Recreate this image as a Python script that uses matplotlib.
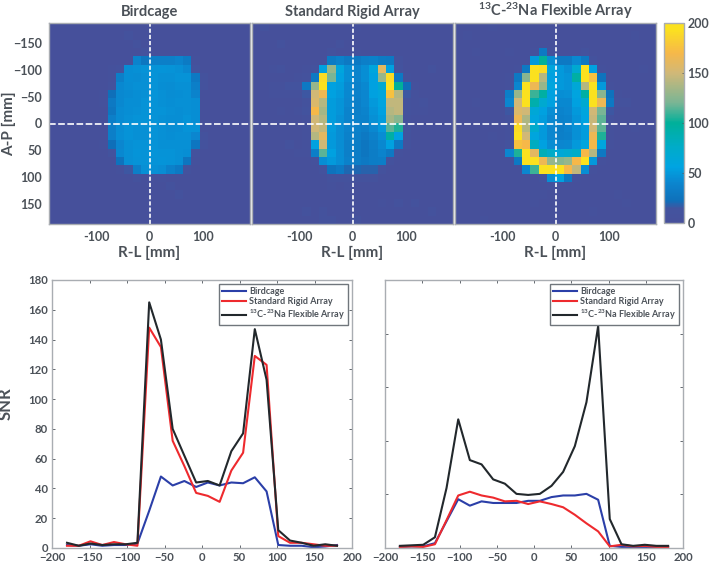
import numpy as np
import matplotlib
matplotlib.use('Agg')
import matplotlib.pyplot as plt
from matplotlib.colors import LinearSegmentedColormap
plt.rc('font', family='Lato', weight='bold', size=10)
matplotlib.rcParams['mathtext.fontset'] = 'custom'
matplotlib.rcParams['mathtext.rm'] = 'Lato:bold'
matplotlib.rcParams['mathtext.default'] = 'rm'
matplotlib.rcParams['axes.labelweight'] = 'bold'
matplotlib.rcParams['axes.titleweight'] = 'bold'

W, H = 709., 564.
gray = '#4b5158'
frame = '#a9adb2'

titles = ['Birdcage', 'Standard Rigid Array', r'$^{13}$C-$^{23}$Na Flexible Array']

birdcage_map = [
 [3,3,3,3,3,3,3,3,3,3,3,3,3,3,3,3,3,3,3,3,3,3,3,3],
 [3,3,3,3,3,3,3,3,3,8,3,3,3,3,3,3,3,3,3,3,3,3,3,3],
 [3,3,3,3,3,3,3,3,3,3,8,3,3,3,3,3,3,3,3,3,3,3,3,3],
 [3,3,3,3,3,3,3,3,3,3,3,8,3,3,3,3,3,3,3,3,3,3,3,3],
 [3,3,3,3,3,3,3,3,3,3,38,28,35,35,35,38,32,4,3,3,3,3,3,3],
 [3,3,3,3,3,3,3,6,10,45,46,47,47,48,47,46,42,12,3,3,3,3,3,3],
 [3,3,3,3,3,3,3,6,35,45,44,46,47,46,46,47,47,30,8,3,3,3,3,3],
 [3,3,3,3,3,3,3,10,42,44,46,46,47,45,44,46,46,35,8,3,3,3,3,3],
 [3,3,3,3,3,3,6,22,42,43,45,46,48,46,44,45,46,38,3,3,3,3,3,3],
 [3,3,3,3,3,3,5,30,42,45,45,47,47,46,45,46,46,45,3,3,3,3,3,3],
 [3,3,3,3,3,3,3,28,43,45,46,47,47,47,46,45,46,45,3,3,3,3,3,3],
 [3,3,3,3,3,3,3,35,43,46,47,47,47,46,45,45,47,45,3,3,3,3,3,3],
 [3,3,3,3,3,3,3,35,44,47,46,46,47,46,44,45,47,47,3,3,3,3,3,3],
 [3,3,3,3,3,3,3,35,45,47,46,46,47,46,45,46,46,40,8,3,3,3,3,3],
 [3,3,3,3,3,3,6,22,40,46,47,47,47,46,46,46,46,28,8,3,3,3,3,3],
 [3,3,3,3,3,3,3,12,42,46,48,47,48,47,47,46,45,10,3,3,3,3,3,3],
 [3,3,3,3,3,3,3,3,25,46,47,47,47,48,47,46,28,4,3,3,3,3,3,3],
 [3,3,3,3,3,3,3,3,6,15,35,46,46,44,36,30,8,3,3,3,3,3,3,3],
 [3,3,3,3,3,3,3,3,3,3,8,3,3,7,3,3,3,3,3,3,3,3,3,3],
 [3,3,3,3,3,3,3,3,3,3,3,3,3,3,8,3,3,3,3,3,3,3,3,3],
 [3,3,3,3,3,3,3,3,3,3,3,3,3,3,3,10,3,3,3,3,3,3,3,3],
 [3,3,3,3,3,3,3,3,3,3,3,3,3,3,3,3,3,3,3,3,3,3,3,3],
 [3,3,3,3,3,3,3,3,3,3,3,3,3,3,3,3,3,3,3,3,3,3,3,3],
 [3,3,3,3,3,3,3,3,3,3,3,3,3,3,3,3,3,3,3,3,3,3,3,3],
]

rigid_map = [
 [3,10,3,3,3,3,3,3,3,3,3,3,5,3,3,3,3,3,3,3,3,3,3,3],
 [3,3,3,3,3,3,3,3,3,3,3,3,3,3,3,3,3,3,3,3,3,3,3,3],
 [3,3,3,10,3,3,3,3,3,3,8,3,3,3,3,3,3,3,3,3,3,3,3,3],
 [3,3,3,3,3,3,3,3,3,10,3,3,5,3,3,3,3,3,3,3,3,3,3,3],
 [3,3,3,3,3,3,3,3,3,32,36,30,30,35,36,32,30,8,3,3,3,3,3,3],
 [3,3,6,8,3,3,4,10,55,130,60,45,38,45,60,160,55,12,3,3,3,8,3,3],
 [3,3,3,3,3,5,8,30,190,120,55,45,38,45,55,130,190,30,5,3,3,3,3,3],
 [3,3,6,7,12,14,30,130,197,55,52,42,36,42,55,70,198,100,22,5,3,3,3,3],
 [3,3,5,6,6,6,15,150,165,55,50,42,36,40,55,60,175,140,15,6,3,3,3,3],
 [3,3,3,3,3,3,10,155,140,52,48,40,35,40,50,58,145,145,8,6,8,3,3,3],
 [3,3,3,5,3,6,12,170,135,52,48,38,35,38,48,55,140,145,8,5,4,3,3,3],
 [3,3,3,3,3,3,6,150,140,52,46,38,36,36,46,52,135,125,5,3,3,3,3,3],
 [3,3,3,3,3,3,6,150,145,52,44,38,36,34,42,50,115,105,12,3,3,3,3,3],
 [3,3,3,3,3,3,5,140,160,50,44,36,35,30,36,44,95,55,10,3,3,3,3,3],
 [3,3,3,3,8,3,6,55,150,50,44,35,33,28,34,42,55,30,8,3,3,3,3,3],
 [3,3,3,3,3,6,5,35,115,55,45,35,33,28,33,38,30,4,3,3,3,3,3,3],
 [3,3,3,3,3,3,3,6,45,50,45,36,33,30,33,34,8,3,3,3,3,3,3,3],
 [3,3,3,3,3,3,3,3,8,25,30,20,20,18,18,8,3,3,3,3,3,3,3,3],
 [3,3,3,3,3,3,3,3,3,8,10,8,8,10,8,3,3,3,3,3,3,3,3,3],
 [3,3,3,3,3,3,3,3,3,4,3,5,3,3,3,3,3,3,3,3,3,3,3,3],
 [3,3,3,3,3,3,3,3,3,3,3,3,3,3,3,3,3,3,3,3,3,3,3,3],
 [3,3,3,3,3,3,3,3,3,3,3,3,3,3,3,7,3,8,3,8,3,3,3,3],
 [3,3,3,3,3,3,8,3,8,3,3,3,3,3,3,3,3,3,3,3,3,8,3,3],
 [3,3,3,3,3,3,3,3,8,8,3,3,8,3,3,3,3,3,3,3,3,3,3,3],
]

flexible_map = [
 [3,3,3,3,5,3,3,3,3,3,3,3,3,3,3,3,3,3,3,3,3,3,3,3],
 [3,6,3,3,3,3,3,3,3,3,3,3,3,3,3,3,3,3,3,3,3,6,3,3],
 [3,3,3,3,3,3,3,3,3,3,3,3,3,3,3,3,3,3,3,3,3,3,3,3],
 [3,3,6,3,3,3,5,3,3,6,30,5,3,3,3,8,3,3,3,3,3,3,3,3],
 [3,3,3,3,3,3,3,3,3,50,100,45,30,30,42,30,8,3,3,3,3,3,3,3],
 [3,3,3,3,3,3,3,5,30,195,190,60,50,45,70,195,55,6,3,3,3,3,6,3],
 [3,3,3,3,3,3,6,30,125,195,140,55,50,48,95,195,175,25,3,3,3,3,3,3],
 [3,3,3,3,3,3,6,40,195,165,130,60,50,48,65,140,195,50,6,3,3,3,3,3],
 [3,3,3,3,3,3,35,130,195,110,95,55,45,46,58,95,195,125,25,6,3,3,3,3],
 [3,3,6,3,3,3,40,150,195,90,70,55,42,42,55,70,195,165,30,8,8,3,3,3],
 [3,3,3,3,3,3,15,155,150,65,55,45,38,40,50,60,150,120,15,3,3,3,3,3],
 [3,3,3,3,3,3,8,165,138,60,52,42,36,38,48,56,147,115,8,3,3,3,3,3],
 [3,3,3,3,3,3,6,190,140,72,50,40,34,38,46,52,150,115,6,3,3,5,3,3],
 [3,3,3,3,6,3,5,195,150,60,50,40,35,36,46,52,165,105,6,3,3,3,3,3],
 [3,3,3,3,3,3,10,175,170,80,55,44,40,42,50,60,170,60,5,3,3,3,3,3],
 [3,3,3,3,3,3,40,105,195,160,85,75,65,70,75,170,140,30,3,3,3,3,3,3],
 [3,3,3,3,3,3,3,30,195,195,165,130,125,130,170,195,50,4,3,3,3,3,3,3],
 [3,3,3,3,3,3,3,3,40,110,195,195,195,170,145,45,5,3,3,3,3,3,3,3],
 [3,3,3,3,3,3,3,3,3,3,8,45,55,30,4,3,3,3,3,3,3,3,3,3],
 [3,3,3,3,3,3,3,3,3,3,3,5,3,3,3,3,3,3,3,3,3,3,3,3],
 [3,3,3,3,3,3,3,3,3,5,5,3,3,3,3,3,3,3,3,5,3,3,3,3],
 [3,3,3,3,3,3,3,3,3,5,3,3,3,3,3,3,3,3,3,3,6,3,3,3],
 [3,3,3,3,3,3,3,3,3,3,3,3,3,3,3,3,5,3,3,3,3,3,3,3],
 [3,3,3,5,3,3,3,3,3,3,3,3,3,3,3,3,3,3,3,3,3,3,3,3],
]

position = [-180,-164.3,-148.7,-133,-117.4,-101.7,-86.1,-70.4,-54.8,-39.1,-23.5,-7.8,
            7.8,23.5,39.1,54.8,70.4,86.1,101.7,117.4,133,148.7,164.3,180]

birdcage_rl = [2,1.5,2.5,1.5,2,2,3,25,48,42,45,41,44,42,44,43.5,47.5,38,2,1.5,1.5,0.5,1,2]
rigid_rl = [1.5,1.5,4.5,2,4,2.5,1.5,148,135,72,55,37,35,31,52,64,129,123,8,3.5,3.5,2.5,1.5,1.5]
flexible_rl = [3.5,1.5,3,2,2.5,2.5,3.5,165,140,80,62,44,45,42,65,77,147,113,12,5,3.5,1.5,2.5,1.5]

birdcage_ap = [1,1.5,1.5,4.5,25,45.5,39.5,43.5,42,42,42,44,44,47.5,49,49,50.5,45,2,1,1,1,1,1]
rigid_ap = [1,1.5,1,3.5,26,49,52.5,49,47,43.5,44,41,43.5,41,38,31,23,15.5,1.5,3,1.5,2,1,1]
flexible_ap = [2,2.5,3,10,56,120,82,78,64,60,50.5,49.5,50.5,58,71,95,136,207,27,3.5,2,3,2,2]

line_labels = ['Birdcage', 'Standard Rigid Array', r'$^{13}$C-$^{23}$Na Flexible Array']
line_colors = ['#2b3fa8', '#ee2a2e', '#22282c']

cmap = LinearSegmentedColormap.from_list('snr', [
    (0., '#47509b'), (0.07, '#43549f'), (0.11, '#0f70ba'), (0.2, '#0b86cf'),
    (0.28, '#00a4e2'), (0.38, '#00acc8'), (0.5, '#00b09a'), (0.6, '#79b595'),
    (0.75, '#d0b878'), (0.85, '#f6b84a'), (0.97, '#fbe11f'), (1., '#fbe11f')])


def place(left, top, right, bottom):
    return fig.add_axes([left/W, 1-bottom/H, (right-left)/W, (bottom-top)/H])


def style(ax, size=9):
    for s in ax.spines.values():
        s.set_color(frame)
        s.set_linewidth(1.0)
    ax.tick_params(colors=gray, labelsize=size, length=2, width=0.6, pad=3)


fig = plt.figure(figsize=(7.09, 5.64), dpi=100)

lefts = [49, 252, 455]
maps = [birdcage_map, rigid_map, flexible_map]
for i in range(3):
    ax = place(lefts[i], 23, lefts[i]+201, 224)
    im = ax.imshow(np.array(maps[i]), cmap=cmap, vmin=0, vmax=200, aspect='auto',
                   extent=(-188, 188, 188, -188), interpolation='nearest')
    ax.axvline(0, color='white', lw=1.2, dashes=(2.5, 1.2))
    ax.axhline(0, color='white', lw=1.2, dashes=(4, 1.5))
    ax.set_xticks([-100, 0, 100])
    ax.set_xticklabels(['-100', '0', '100'])
    ax.set_yticks([-150, -100, -50, 0, 50, 100, 150])
    style(ax)
    ax.tick_params(length=0, pad=5)
    ax.set_xlabel('R-L [mm]', color=gray, fontsize=11, labelpad=2)
    ax.set_title(titles[i], color=gray, fontsize=10.5, pad=5)
    if i == 0:
        ax.set_ylabel('A-P [mm]', color=gray, fontsize=11)
        ax.yaxis.set_label_coords(-0.164, 0.5)
    else:
        ax.set_yticklabels([])

cax = place(664, 23, 684, 223)
cb = fig.colorbar(im, cax=cax, ticks=[0, 50, 100, 150, 200])
cb.outline.set_edgecolor(frame)
cb.outline.set_linewidth(1.0)
cax.tick_params(colors=gray, labelsize=9, length=1.5, width=0.5, direction='in', pad=2.5)

# line profiles
ax1 = place(52, 280, 352, 548)
ax2 = place(385, 280, 683, 548)
profiles = [[birdcage_rl, rigid_rl, flexible_rl], [birdcage_ap, rigid_ap, flexible_ap]]
for ax, prof in zip([ax1, ax2], profiles):
    for y, c, lab in zip(prof, line_colors, line_labels):
        ax.plot(position, y, color=c, lw=1.5, label=lab)
    ax.set_xlim(-200, 200)
    ax.set_xticks(np.arange(-200, 201, 50))
    style(ax, 8.2)
    ax.tick_params(top=True, right=True, direction='in')
    leg = ax.legend(loc='upper right', fontsize=6.5, frameon=True, fancybox=False, framealpha=1,
                    edgecolor='#70767c', borderaxespad=0.25, labelspacing=0.15,
                    handlelength=2.65, handletextpad=0.35, borderpad=0.35,
                    bbox_to_anchor=(0.995, 0.995))
    leg.get_frame().set_linewidth(1.0)
    for t in leg.get_texts():
        t.set_color(gray)

ax1.set_ylim(0, 180)
ax1.set_yticks(np.arange(0, 181, 20))
ax1.set_ylabel('SNR', color=gray, fontsize=12)
ax1.yaxis.set_label_coords(-0.127, 0.54)
ax2.set_ylim(0, 250)
ax2.set_yticks(np.arange(0, 251, 50))
ax2.set_yticklabels([])

fig.savefig('out.png', dpi=100)
